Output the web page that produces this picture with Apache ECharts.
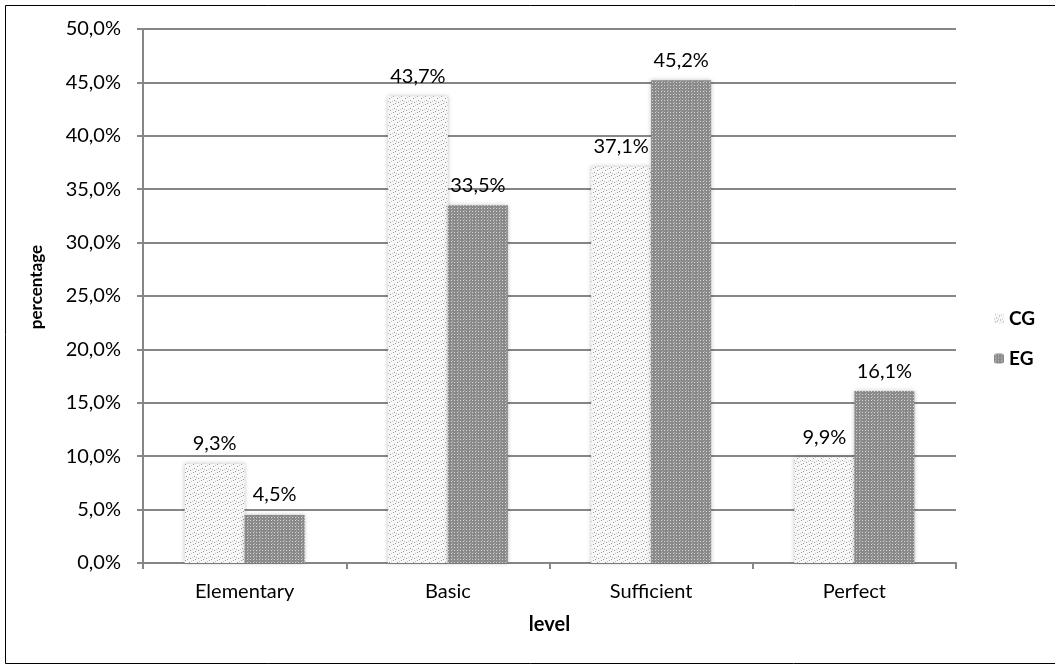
<!DOCTYPE html>
<html>
<head>
<meta charset="utf-8">
<script src="https://cdn.jsdelivr.net/npm/echarts@6/dist/echarts.min.js"></script>
<style>
  html, body { margin: 0; padding: 0; background: #fff; }
  #chart { width: 1055px; height: 670px; }
</style>
</head>
<body>
<div id="chart"></div>
<script>
// data
const levels = ['Elementary', 'Basic', 'Sufficient', 'Perfect'];
const cgValues = [9.3, 43.7, 37.1, 9.9];
const egValues = [4.5, 33.5, 45.2, 16.1];
const seriesNames = ['CG', 'EG'];

const FONT = 'Lato';

// light dotted fill for CG
function dotPattern() {
  const c = document.createElement('canvas');
  c.width = 8; c.height = 8;
  const g = c.getContext('2d');
  g.fillStyle = '#f7f7f7';
  g.fillRect(0, 0, 8, 8);
  g.fillStyle = '#9a9a9a';
  [[1, 0], [5, 2], [2, 4], [6, 6], [3, 7]].forEach(p => g.fillRect(p[0], p[1], 1, 1));
  g.fillStyle = '#c8c8c8';
  [[7, 1], [0, 5], [4, 5]].forEach(p => g.fillRect(p[0], p[1], 1, 1));
  return c;
}

// dense grey grid fill for EG
function gridPattern() {
  const c = document.createElement('canvas');
  c.width = 6; c.height = 3;
  const g = c.getContext('2d');
  g.fillStyle = '#8a8a8a';
  g.fillRect(0, 0, 6, 3);
  g.fillStyle = '#d4d4d4';
  g.fillRect(1, 1, 1, 1);
  g.fillRect(4, 1, 1, 1);
  g.fillStyle = '#b0b0b0';
  g.fillRect(2, 0, 1, 1);
  return c;
}

const cgFill = { image: dotPattern(), repeat: 'repeat' };
const egFill = { image: gridPattern(), repeat: 'repeat' };

const fmt = v => v.toFixed(1).replace('.', ',') + '%';

const chart = echarts.init(document.getElementById('chart'));

const labelStyle = {
  show: true,
  position: 'top',
  distance: 10,
  fontFamily: FONT,
  fontSize: 20,
  color: '#000',
  formatter: p => fmt(p.value)
};

chart.setOption({
  animation: false,
  textStyle: { fontFamily: FONT },
  graphic: [{
    type: 'rect',
    shape: { x: 5.5, y: 5.5, width: 1060, height: 658 },
    style: { fill: 'none', stroke: '#000', lineWidth: 1 },
    silent: true
  }],
  grid: { left: 143, right: 99, top: 29, bottom: 107 },
  legend: {
    orient: 'vertical',
    left: 989,
    top: 304,
    itemWidth: 10,
    itemHeight: 10,
    itemGap: 21,
    textStyle: { fontFamily: FONT, fontSize: 19, fontWeight: 'bold', color: '#000' },
    data: seriesNames
  },
  xAxis: {
    type: 'category',
    data: levels,
    name: 'level',
    nameLocation: 'middle',
    nameGap: 52,
    nameTextStyle: { fontFamily: FONT, fontSize: 20, fontWeight: 'bold', color: '#000' },
    axisLine: { lineStyle: { color: '#868686', width: 2 } },
    axisTick: { show: true, length: 6, lineStyle: { color: '#868686', width: 2 } },
    axisLabel: { fontFamily: FONT, fontSize: 20, color: '#000', margin: 19 }
  },
  yAxis: {
    type: 'value',
    min: 0,
    max: 50,
    interval: 5,
    name: 'percentage',
    nameLocation: 'middle',
    nameGap: 98,
    nameTextStyle: { fontFamily: FONT, fontSize: 17, fontWeight: 'bold', color: '#000', padding: [0, 0, 0, 18] },
    axisLine: { show: true, lineStyle: { color: '#868686', width: 2 } },
    axisTick: { show: true, length: 6, lineStyle: { color: '#868686', width: 2 } },
    axisLabel: { fontFamily: FONT, fontSize: 20, color: '#000', margin: 22, formatter: fmt },
    splitLine: { lineStyle: { color: '#868686', width: 2 } }
  },
  series: [
    {
      name: seriesNames[0],
      type: 'bar',
      data: cgValues,
      barWidth: 60,
      barGap: '0%',
      itemStyle: { color: cgFill, shadowBlur: 4, shadowColor: 'rgba(0,0,0,0.25)' },
      label: labelStyle
    },
    {
      name: seriesNames[1],
      type: 'bar',
      data: egValues,
      barWidth: 60,
      barGap: '0%',
      itemStyle: { color: egFill, shadowBlur: 4, shadowColor: 'rgba(0,0,0,0.25)' },
      label: labelStyle
    }
  ]
});
</script>
</body>
</html>
